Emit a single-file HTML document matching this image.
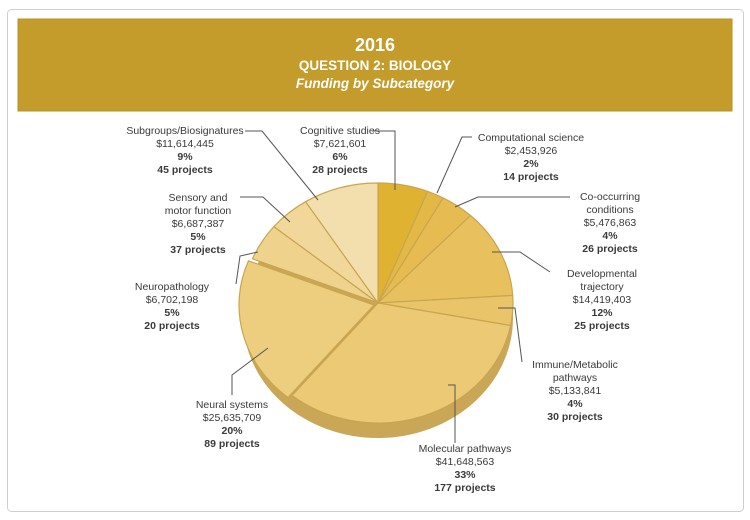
<!DOCTYPE html>
<html><head><meta charset="utf-8"><style>
body{margin:0;background:#fff;}
svg{display:block;font-family:"Liberation Sans",sans-serif;}
.t{font-size:10.5px;fill:#3a3a3a;text-anchor:middle;}
.b{font-weight:bold;}
.l{stroke:#555;stroke-width:1;fill:none;}
</style></head><body>
<svg width="750" height="520" viewBox="0 0 750 520">
<rect x="7.5" y="9.5" width="736" height="502" rx="4" fill="#fff" stroke="#cfcfcf" stroke-width="1"/>
<rect x="18" y="19" width="714" height="92" fill="#c49c2b" stroke="#b8922a"/>
<text x="375" y="51" text-anchor="middle" fill="#fff" font-size="18" font-weight="bold">2016</text>
<text x="375" y="70" text-anchor="middle" fill="#fff" font-size="13.5" font-weight="bold">QUESTION 2:  BIOLOGY</text>
<text x="375" y="88" text-anchor="middle" fill="#fff" font-size="13.5" font-weight="bold" font-style="italic">Funding by Subcategory</text>

<ellipse cx="378" cy="318" rx="135" ry="120" fill="#c9a757"/>
<rect x="243" y="303" width="270" height="15" fill="#c9a757"/>
<g stroke="#c9a550" stroke-width="1.2" stroke-linejoin="round">
<path d="M378,303 L378,183 A135,120 0 0 1 427.7,191.4 Z" fill="#e0b232"/>
<path d="M378,303 L427.7,191.4 A135,120 0 0 1 443.1,197.9 Z" fill="#e3b846"/>
<path d="M378,303 L443.1,197.9 A135,120 0 0 1 470.5,215.5 Z" fill="#e6bc52"/>
<path d="M378,303 L470.5,215.5 A135,120 0 0 1 512.7,295.4 Z" fill="#e8c05e"/>
<path d="M378,303 L512.7,295.4 A135,120 0 0 1 510.6,325.5 Z" fill="#eac468"/>
<path d="M378,303 L510.6,325.5 A135,120 0 0 1 292,395.5 Z" fill="#ebc975"/>
<path d="M374,305 L288,397.5 A135,120 0 0 1 248.5,260.8 Z" fill="#edcd7e"/>
<path d="M378,303 L252.5,258.8 A135,120 0 0 1 273.9,226.6 Z" fill="#efd38c"/>
<path d="M378,303 L273.9,226.6 A135,120 0 0 1 305.6,201.7 Z" fill="#f1d89a"/>
<path d="M378,303 L305.6,201.7 A135,120 0 0 1 378,183 Z" fill="#f3dfad"/>
</g>

<g class="l">
<polyline points="245,131 262,131 318,200"/>
<polyline points="372,131 395,131 395,190"/>
<polyline points="472,137 462,137 437,193"/>
<polyline points="570,197 478,197 455,207"/>
<polyline points="550,272 520,252 492,252"/>
<polyline points="522,362 515,308 498,308"/>
<polyline points="455,443 455,385 448,385"/>
<polyline points="232,395 232,375 268,348"/>
<polyline points="236,284 240,256 258,252"/>
<polyline points="240,197 263,197 290,222"/>
</g>

<text class="t"><tspan x="185" y="134">Subgroups/Biosignatures</tspan><tspan x="185" y="147">$11,614,445</tspan><tspan x="185" y="160" class="b">9%</tspan><tspan x="185" y="173" class="b">45 projects</tspan></text>
<text class="t"><tspan x="340" y="134">Cognitive studies</tspan><tspan x="340" y="147">$7,621,601</tspan><tspan x="340" y="160" class="b">6%</tspan><tspan x="340" y="173" class="b">28 projects</tspan></text>
<text class="t"><tspan x="531" y="141">Computational science</tspan><tspan x="531" y="154">$2,453,926</tspan><tspan x="531" y="167" class="b">2%</tspan><tspan x="531" y="180" class="b">14 projects</tspan></text>
<text class="t"><tspan x="610" y="200">Co-occurring</tspan><tspan x="610" y="213">conditions</tspan><tspan x="610" y="226">$5,476,863</tspan><tspan x="610" y="239" class="b">4%</tspan><tspan x="610" y="252" class="b">26 projects</tspan></text>
<text class="t"><tspan x="602" y="277">Developmental</tspan><tspan x="602" y="290">trajectory</tspan><tspan x="602" y="303">$14,419,403</tspan><tspan x="602" y="316" class="b">12%</tspan><tspan x="602" y="329" class="b">25 projects</tspan></text>
<text class="t"><tspan x="575" y="368">Immune/Metabolic</tspan><tspan x="575" y="381">pathways</tspan><tspan x="575" y="394">$5,133,841</tspan><tspan x="575" y="407" class="b">4%</tspan><tspan x="575" y="420" class="b">30 projects</tspan></text>
<text class="t"><tspan x="465" y="452">Molecular pathways</tspan><tspan x="465" y="465">$41,648,563</tspan><tspan x="465" y="478" class="b">33%</tspan><tspan x="465" y="491" class="b">177 projects</tspan></text>
<text class="t"><tspan x="232" y="408">Neural systems</tspan><tspan x="232" y="421">$25,635,709</tspan><tspan x="232" y="434" class="b">20%</tspan><tspan x="232" y="447" class="b">89 projects</tspan></text>
<text class="t"><tspan x="172" y="290">Neuropathology</tspan><tspan x="172" y="303">$6,702,198</tspan><tspan x="172" y="316" class="b">5%</tspan><tspan x="172" y="329" class="b">20 projects</tspan></text>
<text class="t"><tspan x="198" y="201">Sensory and</tspan><tspan x="198" y="214">motor function</tspan><tspan x="198" y="227">$6,687,387</tspan><tspan x="198" y="240" class="b">5%</tspan><tspan x="198" y="253" class="b">37 projects</tspan></text>
</svg>
</body></html>
